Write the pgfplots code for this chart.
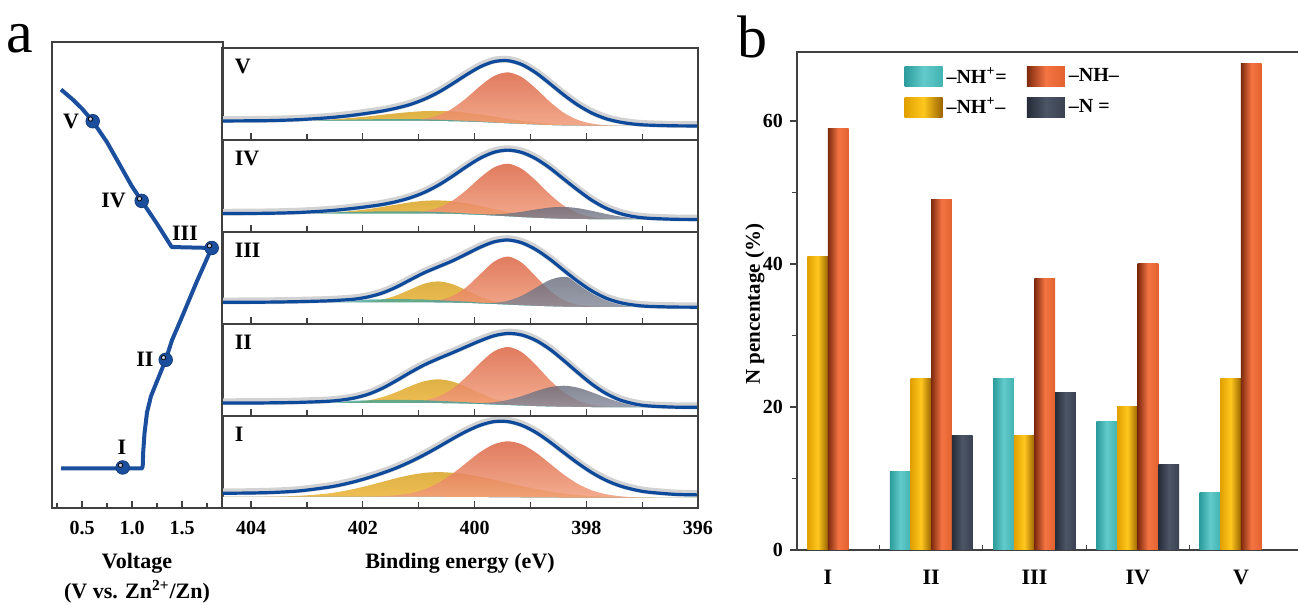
\documentclass[border=0pt]{standalone}
\usepackage{fontspec}
\setmainfont{Liberation Serif}
\usepackage{pgfplots}
\pgfplotsset{compat=1.18}
\usepackage{pgfplotstable}

\definecolor{vblue}{HTML}{1B4F9E}
\definecolor{eblue}{HTML}{0D4A9C}
\definecolor{frame}{HTML}{404040}
\definecolor{orT}{HTML}{DB6443}
\definecolor{orB}{HTML}{F6A886}
\definecolor{yeT}{HTML}{D8A425}
\definecolor{yeB}{HTML}{F5B93C}
\definecolor{dkT}{HTML}{676A7A}
\definecolor{dkB}{HTML}{8E93A4}
\definecolor{tl}{HTML}{38A39B}
\definecolor{cyL}{HTML}{2C9C9C}
\definecolor{cyM}{HTML}{62CACA}
\definecolor{cyR}{HTML}{43B3B3}
\definecolor{ylL}{HTML}{E0A000}
\definecolor{ylM}{HTML}{FFC81E}
\definecolor{ylR}{HTML}{9A6400}
\definecolor{ogL}{HTML}{7E2A0E}
\definecolor{ogM}{HTML}{F47443}
\definecolor{ogR}{HTML}{E2622F}
\definecolor{dgL}{HTML}{262C38}
\definecolor{dgM}{HTML}{4C5566}
\definecolor{dgR}{HTML}{3A4252}

\pgfplotsset{
  xps/.style={anchor=south west, width=238pt, height=46pt, scale only axis, axis on top,
    xmin=396, xmax=404.52, x dir=reverse, ymin=0, ymax=1, ytick=\empty,
    xtick={396,398,400,402,404}, minor xtick={397,399,401,403}, xticklabels={},
    xtick pos=left, tick align=inside, major tick length=3.5pt, minor tick length=3pt,
    axis line style={frame, line width=0.7pt}, tick style={frame, line width=0.6pt}},
  cybar/.style={left color=cyL, right color=cyR, middle color=cyM},
  ylbar/.style={left color=ylL, right color=ylR, middle color=ylM},
  ogbar/.style={left color=ogL, right color=ogR, middle color=ogM},
  dgbar/.style={left color=dgL, right color=dgR, middle color=dgM},
}
% one bar per plot, so that each bar gets its own horizontal shading
\newcommand{\onebar}[4]{\addplot[ybar, bar width=0.2, bar shift=#1, draw=none, #2, forget plot] coordinates {(#3,#4)};}

% XPS N1s fits, panels V..I: background, tops of -NH+= (T), -NH+- (Y), -NH- (O), -N= (D), envelope (E)
\pgfplotstableread{
x bg T Y O D E
404.65 .207 .207 .207 .207 .207 .207
404.15 .207 .207 .207 .207 .207 .208
403.65 .207 .209 .208 .207 .207 .211
403.15 .207 .211 .212 .207 .207 .221
402.65 .207 .216 .222 .207 .207 .240
402.40 .207 .219 .231 .207 .207 .254
402.15 .207 .222 .243 .207 .207 .271
401.90 .207 .225 .257 .207 .207 .292
401.65 .207 .226 .274 .207 .207 .315
401.40 .207 .227 .290 .207 .207 .346
401.15 .207 .226 .304 .215 .207 .386
400.90 .207 .225 .314 .231 .207 .443
400.65 .205 .220 .315 .268 .205 .517
400.40 .203 .215 .310 .341 .203 .609
400.15 .199 .208 .296 .453 .199 .707
399.90 .194 .201 .277 .586 .194 .795
399.65 .187 .191 .254 .696 .187 .852
399.40 .180 .183 .230 .735 .180 .862
399.15 .173 .175 .209 .682 .173 .819
398.90 .167 .168 .191 .559 .167 .730
398.65 .161 .161 .176 .415 .161 .612
398.40 .157 .157 .166 .295 .157 .489
398.15 .155 .155 .160 .218 .155 .380
397.90 .154 .154 .157 .178 .154 .293
397.65 .153 .153 .154 .161 .153 .232
397.40 .153 .153 .154 .155 .153 .195
397.15 .153 .153 .153 .153 .153 .173
396.90 .153 .153 .153 .153 .153 .162
396.40 .153 .153 .153 .153 .153 .154
395.90 .153 .153 .153 .153 .153 .153
}\tabV
\pgfplotstableread{
x bg T Y O D E
404.65 .200 .200 .200 .200 .200 .200
404.15 .200 .201 .200 .200 .200 .201
403.65 .200 .202 .200 .200 .200 .204
403.15 .200 .205 .202 .200 .200 .212
402.65 .200 .211 .209 .200 .200 .229
402.40 .200 .215 .217 .200 .200 .242
402.15 .200 .219 .231 .200 .200 .258
401.90 .200 .222 .249 .200 .200 .277
401.65 .200 .224 .273 .200 .200 .299
401.40 .200 .225 .298 .200 .200 .330
401.15 .200 .224 .322 .208 .200 .372
400.90 .200 .222 .339 .225 .200 .430
400.65 .198 .217 .343 .263 .198 .508
400.40 .196 .211 .335 .339 .197 .604
400.15 .191 .202 .313 .453 .193 .708
399.90 .185 .193 .283 .590 .191 .802
399.65 .177 .182 .250 .702 .192 .867
399.40 .169 .172 .218 .742 .201 .890
399.15 .160 .162 .191 .685 .220 .864
398.90 .153 .154 .170 .558 .245 .796
398.65 .147 .147 .156 .409 .266 .695
398.40 .142 .142 .146 .285 .272 .574
398.15 .140 .140 .142 .205 .259 .455
397.90 .138 .138 .139 .163 .230 .345
397.65 .137 .137 .137 .145 .197 .260
397.40 .137 .137 .137 .139 .169 .202
397.15 .137 .137 .137 .137 .152 .167
396.90 .137 .137 .137 .137 .143 .150
396.40 .137 .137 .137 .137 .138 .138
395.90 .137 .137 .137 .137 .137 .137
}\tabIV
\pgfplotstableread{
x bg T Y O D E
404.65 .235 .235 .235 .235 .235 .235
404.15 .235 .236 .235 .235 .235 .236
403.65 .235 .238 .235 .235 .235 .238
403.15 .235 .243 .235 .235 .235 .243
402.65 .235 .251 .235 .235 .235 .251
402.40 .235 .256 .235 .235 .235 .259
402.15 .235 .261 .238 .235 .235 .270
401.90 .235 .266 .245 .235 .235 .295
401.65 .235 .269 .266 .235 .235 .337
401.40 .235 .270 .310 .235 .235 .401
401.15 .235 .269 .375 .236 .235 .480
400.90 .235 .266 .438 .241 .235 .557
400.65 .233 .259 .463 .256 .233 .621
400.40 .231 .252 .434 .302 .231 .685
400.15 .228 .244 .368 .398 .229 .759
399.90 .222 .233 .297 .540 .226 .834
399.65 .216 .224 .247 .678 .230 .893
399.40 .209 .214 .219 .733 .253 .913
399.15 .202 .205 .205 .664 .308 .882
398.90 .196 .198 .196 .514 .394 .808
398.65 .191 .192 .191 .361 .479 .704
398.40 .187 .187 .187 .258 .513 .582
398.15 .185 .185 .185 .208 .473 .463
397.90 .184 .184 .184 .190 .382 .360
397.65 .183 .183 .183 .184 .289 .282
397.40 .183 .183 .183 .183 .227 .233
397.15 .183 .183 .183 .183 .197 .206
396.90 .183 .183 .183 .183 .187 .192
396.40 .183 .183 .183 .183 .183 .184
395.90 .183 .183 .183 .183 .183 .183
}\tabIII
\pgfplotstableread{
x bg T Y O D E
404.65 .140 .140 .140 .140 .140 .140
404.15 .140 .141 .140 .140 .140 .141
403.65 .140 .143 .140 .140 .140 .143
403.15 .140 .148 .140 .140 .140 .148
402.65 .140 .156 .141 .140 .140 .159
402.40 .140 .161 .144 .140 .140 .172
402.15 .140 .166 .151 .140 .140 .196
401.90 .140 .171 .170 .140 .140 .237
401.65 .140 .174 .205 .140 .140 .301
401.40 .140 .175 .259 .140 .140 .384
401.15 .140 .174 .324 .149 .140 .473
400.90 .140 .171 .378 .168 .140 .555
400.65 .139 .165 .399 .211 .139 .623
400.40 .137 .158 .375 .294 .138 .686
400.15 .134 .150 .318 .423 .137 .752
399.90 .129 .140 .248 .576 .139 .817
399.65 .123 .131 .188 .703 .149 .872
399.40 .118 .123 .148 .750 .175 .897
399.15 .112 .115 .123 .692 .217 .880
398.90 .106 .108 .110 .553 .269 .821
398.65 .102 .103 .103 .391 .313 .725
398.40 .099 .099 .099 .256 .329 .602
398.15 .097 .097 .097 .169 .308 .471
397.90 .095 .095 .095 .123 .258 .347
397.65 .095 .095 .095 .104 .200 .246
397.40 .095 .095 .095 .098 .152 .175
397.15 .095 .095 .095 .095 .121 .133
396.90 .095 .095 .095 .095 .105 .110
396.40 .095 .095 .095 .095 .096 .096
395.90 .095 .095 .095 .095 .095 .095
}\tabII
\pgfplotstableread{
x bg T Y O D E
404.65 .120 .120 .120 .120 .120 .160
404.15 .120 .120 .121 .120 .120 .162
403.65 .120 .120 .123 .120 .120 .168
403.15 .120 .120 .132 .120 .120 .185
402.65 .120 .120 .156 .120 .120 .223
402.40 .120 .120 .178 .120 .120 .250
402.15 .120 .120 .208 .121 .120 .286
401.90 .120 .120 .244 .122 .120 .329
401.65 .120 .120 .284 .127 .120 .379
401.40 .120 .120 .324 .138 .120 .435
401.15 .120 .120 .358 .160 .120 .502
400.90 .120 .120 .382 .202 .120 .578
400.65 .120 .120 .390 .272 .120 .662
400.40 .119 .119 .383 .370 .119 .750
400.15 .119 .119 .367 .489 .119 .832
399.90 .118 .118 .340 .607 .118 .899
399.65 .116 .116 .307 .693 .116 .939
399.40 .115 .115 .272 .725 .115 .939
399.15 .114 .114 .238 .691 .114 .898
398.90 .113 .113 .206 .602 .113 .821
398.65 .112 .112 .179 .482 .112 .717
398.40 .111 .111 .157 .362 .111 .601
398.15 .110 .110 .141 .262 .110 .487
397.90 .110 .110 .129 .192 .110 .385
397.65 .110 .110 .122 .150 .110 .302
397.40 .110 .110 .117 .128 .110 .241
397.15 .110 .110 .114 .117 .110 .200
396.90 .110 .110 .112 .112 .110 .173
396.40 .110 .110 .110 .110 .110 .148
395.90 .110 .110 .110 .110 .110 .142
}\tabI

% #1 table, #2 bottom y, #3 label, #4 axis options
% component areas are closed down to the axis floor, then the part below the background is masked white
\newcommand{\xpspanel}[4]{%
\begin{axis}[xps, at={(111pt,#2)}, #4]
\addplot[draw=none, top color=yeT, bottom color=yeB, fill opacity=0.85, smooth] table[x=x,y=Y]{#1} \closedcycle;
\addplot[draw=none, top color=orT, bottom color=orB, fill opacity=0.85, smooth] table[x=x,y=O]{#1} \closedcycle;
\addplot[draw=none, top color=dkT, bottom color=dkB, fill opacity=0.8, smooth] table[x=x,y=D]{#1} \closedcycle;
\addplot[draw=none, fill=tl, fill opacity=0.75, smooth] table[x=x,y=T]{#1} \closedcycle;
\addplot[draw=none, fill=white, smooth] table[x=x,y=bg]{#1} \closedcycle;
\addplot[gray!35, line width=3.4pt, smooth, yshift=0.7pt] table[x=x,y=E]{#1};
\addplot[eblue, line width=1.6pt, smooth] table[x=x,y=E]{#1};
\node[anchor=west, font=\bfseries\fontsize{11}{11}\selectfont] at (rel axis cs:0.012,0.80) {#3};
\end{axis}}

\begin{document}
\begin{tikzpicture}
\useasboundingbox (0,0) rectangle (649pt,302.5pt);

% ---- voltage profile
\begin{axis}[at={(26pt,48.5pt)}, anchor=south west, width=85.5pt, height=233pt, scale only axis,
  xmin=0.2, xmax=1.91, ymin=0, ymax=1, ytick=\empty,
  xtick={0.5,1,1.5}, xticklabels={0.5,1.0,1.5}, minor xtick={0.25,0.75,1.25,1.75},
  xtick pos=left, tick align=inside, major tick length=3.5pt, minor tick length=2.5pt,
  axis line style={frame, line width=0.7pt}, tick style={frame, line width=0.6pt},
  xticklabel style={font=\bfseries\fontsize{10}{10}\selectfont, yshift=-3pt}, clip=false]
\addplot[vblue, line width=2pt, line join=round] coordinates {
(0.29,0.898) (0.40,0.878) (0.50,0.857) (0.607,0.830) (0.75,0.785) (0.90,0.728) (1.00,0.69)
(1.097,0.659) (1.25,0.61) (1.397,0.560) (1.797,0.558) (1.65,0.487) (1.50,0.410) (1.40,0.360)
(1.337,0.318) (1.25,0.272) (1.19,0.240) (1.15,0.205) (1.125,0.16) (1.112,0.12) (1.107,0.09)
(1.10,0.085) (0.29,0.085)};
\addplot[only marks, mark=*, mark size=3.4pt, mark options={draw=vblue!80!black, fill=vblue}] coordinates {
(0.907,0.087) (1.337,0.318) (1.797,0.558) (1.097,0.659) (0.607,0.830)};
\addplot[only marks, mark=*, mark size=1.1pt, mark options={draw=none, fill=vblue!30!white, xshift=-1.1pt, yshift=1.1pt}] coordinates {
(0.907,0.087) (1.337,0.318) (1.797,0.558) (1.097,0.659) (0.607,0.830)};
\begin{scope}[font=\bfseries\fontsize{11}{11}\selectfont]
\node at (axis cs:0.39,0.83) {V};
\node at (axis cs:0.815,0.66) {IV};
\node at (axis cs:1.53,0.59) {III};
\node at (axis cs:1.13,0.32) {II};
\node at (axis cs:0.90,0.13) {I};
\end{scope}
\end{axis}

% ---- XPS panels
\xpspanel{\tabV}{232.5pt}{V}{}
\xpspanel{\tabIV}{186.5pt}{IV}{}
\xpspanel{\tabIII}{140.5pt}{III}{}
\xpspanel{\tabII}{94.5pt}{II}{}
\xpspanel{\tabI}{48.5pt}{I}{xticklabels={396,398,400,402,404},
  xticklabel style={font=\bfseries\fontsize{10}{10}\selectfont, yshift=-3pt}}

% ---- bar chart
\begin{axis}[at={(398.5pt,27.5pt)}, anchor=south west, width=254pt, height=249pt, scale only axis,
  xmin=0.7, xmax=5.62, ymin=0, ymax=69.65,
  xtick={1,2,3,4,5}, xticklabels={I,II,III,IV,V}, minor xtick={1.5,2.5,3.5,4.5},
  major x tick style={draw=none}, minor x tick style={yshift=2.5pt},
  ytick={0,20,40,60}, yticklabels={0,20,40,60}, minor ytick={10,30,50},
  xtick pos=left, ytick pos=left, tick align=outside, major tick length=3.5pt, minor tick length=2.5pt,
  axis line style={frame, line width=0.7pt}, tick style={frame, line width=0.6pt},
  xticklabel style={font=\bfseries\fontsize{11}{11}\selectfont, yshift=-3pt},
  yticklabel style={font=\bfseries\fontsize{10}{10}\selectfont},
  legend image code/.code={\path[#1] (0pt,-5pt) rectangle (19pt,5pt);},
  legend columns=2, legend cell align=left,
  legend style={at={(0.199,0.985)}, anchor=north west, draw=none, fill=none,
    font=\bfseries\fontsize{10}{10}\selectfont, row sep=2pt,
    /tikz/every even column/.append style={column sep=8pt}}]
\onebar{-0.3}{cybar}{2}{11} \onebar{-0.3}{cybar}{3}{24} \onebar{-0.3}{cybar}{4}{18} \onebar{-0.3}{cybar}{5}{8}
\onebar{-0.1}{ylbar}{1}{41} \onebar{-0.1}{ylbar}{2}{24} \onebar{-0.1}{ylbar}{3}{16} \onebar{-0.1}{ylbar}{4}{20} \onebar{-0.1}{ylbar}{5}{24}
\onebar{0.1}{ogbar}{1}{59} \onebar{0.1}{ogbar}{2}{49} \onebar{0.1}{ogbar}{3}{38} \onebar{0.1}{ogbar}{4}{40} \onebar{0.1}{ogbar}{5}{68}
\onebar{0.3}{dgbar}{2}{16} \onebar{0.3}{dgbar}{3}{22} \onebar{0.3}{dgbar}{4}{12}
\addlegendimage{draw=none, cybar}
\addlegendentry{--NH\textsuperscript{+}=}
\addlegendimage{draw=none, ogbar}
\addlegendentry{--NH--}
\addlegendimage{draw=none, ylbar}
\addlegendentry{--NH\textsuperscript{+}--}
\addlegendimage{draw=none, dgbar}
\addlegendentry{--N =}
\end{axis}

% ---- free text
\node[font=\fontsize{30}{30}\selectfont] at (10pt,283pt) {a};
\node[font=\fontsize{30}{30}\selectfont] at (376pt,284pt) {b};
\node[font=\bfseries\fontsize{11}{11}\selectfont] at (68.5pt,21pt) {Voltage};
\node[font=\bfseries\fontsize{11}{11}\selectfont] at (68.5pt,6.5pt) {(V vs. Zn\textsuperscript{2+}/Zn)};
\node[font=\bfseries\fontsize{11}{11}\selectfont] at (230pt,21pt) {Binding energy (eV)};
\node[rotate=90, font=\bfseries\fontsize{10.5}{10.5}\selectfont] at (377.5pt,150.5pt) {N pencentage (\%)};
\end{tikzpicture}
\end{document}
